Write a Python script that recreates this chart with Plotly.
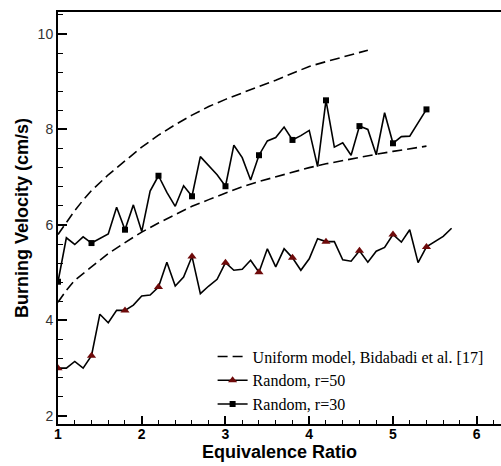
import plotly.graph_objects as go

# ---- data ----
phi_r30 = [1.0, 1.1, 1.2, 1.3, 1.4, 1.5, 1.6, 1.7, 1.8, 1.9, 2.0, 2.1, 2.2, 2.3, 2.4,
           2.5, 2.6, 2.7, 2.8, 2.9, 3.0, 3.1, 3.2, 3.3, 3.4, 3.5, 3.6, 3.7, 3.8, 3.9,
           4.0, 4.1, 4.2, 4.3, 4.4, 4.5, 4.6, 4.7, 4.8, 4.9, 5.0, 5.1, 5.2, 5.3, 5.4]
vel_r30 = [4.81, 5.73, 5.59, 5.75, 5.62, 5.71, 5.81, 6.37, 5.90, 6.42, 5.86, 6.71, 7.03, 6.68, 6.39,
           6.82, 6.60, 7.43, 7.25, 7.05, 6.81, 7.67, 7.41, 6.94, 7.46, 7.76, 7.83, 8.05, 7.78, 7.87,
           7.98, 7.22, 8.61, 7.63, 7.72, 7.46, 8.07, 8.00, 7.47, 8.35, 7.71, 7.85, 7.86, 8.13, 8.42]

phi_r50 = [1.0, 1.1, 1.2, 1.3, 1.4, 1.5, 1.6, 1.7, 1.8, 1.9, 2.0, 2.1, 2.2, 2.3, 2.4,
           2.5, 2.6, 2.7, 2.8, 2.9, 3.0, 3.1, 3.2, 3.3, 3.4, 3.5, 3.6, 3.7, 3.8, 3.9,
           4.0, 4.1, 4.2, 4.3, 4.4, 4.5, 4.6, 4.7, 4.8, 4.9, 5.0, 5.1, 5.2, 5.3, 5.4,
           5.5, 5.6, 5.7]
vel_r50 = [3.00, 3.00, 3.14, 3.00, 3.26, 4.13, 3.95, 4.21, 4.21, 4.32, 4.51, 4.53, 4.70, 5.22, 4.72,
           4.91, 5.34, 4.56, 4.72, 4.86, 5.21, 5.05, 5.07, 5.26, 5.01, 5.50, 5.12, 5.50, 5.31, 5.05,
           5.29, 5.71, 5.65, 5.65, 5.27, 5.24, 5.46, 5.22, 5.45, 5.53, 5.80, 5.64, 5.90, 5.21, 5.54,
           5.65, 5.76, 5.93]

phi_uni_hi = [1.0, 1.1, 1.2, 1.3, 1.4, 1.6, 1.8, 2.0, 2.2, 2.4, 2.6, 2.8, 3.0, 3.2, 3.4,
              3.6, 3.8, 4.0, 4.2, 4.4, 4.6, 4.7]
vel_uni_hi = [5.80, 6.05, 6.30, 6.52, 6.72, 7.05, 7.33, 7.63, 7.88, 8.10, 8.30, 8.48, 8.63, 8.77, 8.90,
              9.03, 9.18, 9.32, 9.42, 9.52, 9.62, 9.66]

phi_uni_lo = [1.0, 1.1, 1.2, 1.4, 1.6, 1.8, 2.0, 2.2, 2.4, 2.6, 2.8, 3.0, 3.2, 3.4, 3.6,
              3.8, 4.0, 4.2, 4.4, 4.6, 4.8, 5.0, 5.2, 5.4]
vel_uni_lo = [4.38, 4.63, 4.84, 5.13, 5.40, 5.63, 5.85, 6.04, 6.22, 6.39, 6.53, 6.67, 6.80, 6.91, 7.01,
              7.11, 7.20, 7.28, 7.35, 7.42, 7.48, 7.54, 7.60, 7.65]

marker_step = 4
legend_names = ["Uniform model, Bidabadi et al. [17]", "Random, r=50", "Random, r=30"]
x_ticks = [1, 2, 3, 4, 5, 6]
y_ticks = [2, 4, 6, 8, 10]

# ---- styles ----
DASH = "10px,5px"
LW = 1.6
TRI_COLOR = "#6e0a0a"

fig = go.Figure()

for px_, py_ in [(phi_uni_hi, vel_uni_hi), (phi_uni_lo, vel_uni_lo)]:
    fig.add_trace(go.Scatter(x=px_, y=py_, mode="lines", showlegend=False,
                             line=dict(color="black", width=LW, dash=DASH)))

fig.add_trace(go.Scatter(x=phi_r50, y=vel_r50, mode="lines", showlegend=False,
                         line=dict(color="black", width=LW)))
fig.add_trace(go.Scatter(x=phi_r50[::marker_step], y=vel_r50[::marker_step], mode="markers",
                         showlegend=False,
                         marker=dict(symbol="triangle-up", size=8, color=TRI_COLOR)))

fig.add_trace(go.Scatter(x=phi_r30, y=vel_r30, mode="lines", showlegend=False,
                         line=dict(color="black", width=LW)))
fig.add_trace(go.Scatter(x=phi_r30[::marker_step], y=vel_r30[::marker_step], mode="markers",
                         showlegend=False,
                         marker=dict(symbol="square", size=6, color="black")))

# legend entries
fig.add_trace(go.Scatter(x=[None], y=[None], mode="lines", name=legend_names[0],
                         line=dict(color="black", width=LW, dash=DASH)))
fig.add_trace(go.Scatter(x=[None], y=[None], mode="lines+markers", name=legend_names[1],
                         line=dict(color="black", width=LW),
                         marker=dict(symbol="triangle-up", size=8, color=TRI_COLOR)))
fig.add_trace(go.Scatter(x=[None], y=[None], mode="lines+markers", name=legend_names[2],
                         line=dict(color="black", width=LW),
                         marker=dict(symbol="square", size=6, color="black")))

fig.update_layout(
    width=501, height=466,
    margin=dict(l=58, r=0, t=12, b=42),
    paper_bgcolor="white", plot_bgcolor="white",
    showlegend=True,
    legend=dict(x=0.349, y=0.205, xanchor="left", yanchor="top",
                bgcolor="rgba(0,0,0,0)", borderwidth=0,
                font=dict(family="Liberation Serif", size=16, color="black"),
                tracegroupgap=0, itemwidth=30),
    xaxis=dict(range=[1, 6.29], tickvals=x_ticks, ticktext=[str(v) for v in x_ticks],
               ticks="inside", ticklen=8, tickwidth=1.5, tickcolor="black",
               showline=True, linecolor="black", linewidth=2, mirror=True,
               showgrid=False, zeroline=False, ticklabelstandoff=-4,
               tickfont=dict(family="Liberation Sans", size=14, color="black", weight="bold"),
               minor=dict(dtick=0.2, tick0=1, ticks="inside", ticklen=4, tickwidth=1,
                          tickcolor="black", showgrid=False),
               title=dict(text="Equivalence Ratio", standoff=0,
                          font=dict(family="Liberation Sans", size=18, color="black",
                                    weight="bold"))),
    yaxis=dict(range=[1.83, 10.46], tickvals=y_ticks, ticktext=[str(v) for v in y_ticks],
               ticks="inside", ticklen=9, tickwidth=1.5, tickcolor="black",
               showline=True, linecolor="black", linewidth=2, mirror=False,
               showgrid=False, zeroline=False,
               tickfont=dict(family="Liberation Sans", size=14, color="#333333"),
               minor=dict(dtick=0.4, tick0=2, ticks="inside", ticklen=5, tickwidth=1,
                          tickcolor="black", showgrid=False),
               title=dict(text="Burning Velocity (cm/s)", standoff=4,
                          font=dict(family="Liberation Sans", size=18, color="black",
                                    weight="bold"))),
)

fig.write_html("out.html")
